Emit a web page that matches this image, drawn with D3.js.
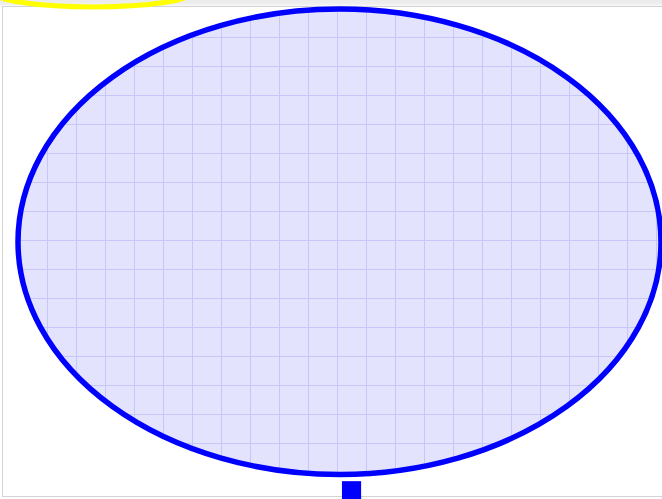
<!DOCTYPE html>
<html>
<head>
<meta charset="utf-8">
<script src="https://cdn.jsdelivr.net/npm/d3@7"></script>
<style>
html,body{margin:0;padding:0;background:#fff;overflow:hidden;}
svg{display:block;}
</style>
</head>
<body>
<script>
// Data (grid units)
const shapeNames = ["highlight", "region"];
const centerX = [2.59, 11.085];
const centerY = [-0.59, 8.025];
const radiusX = [3.45, 11.085];
const radiusY = [0.52, 8.025];
const gridXTicks = d3.range(0, 23);
const gridYTicks = d3.range(0, 17);
const barNames = ["stem"];
const barStart = [11.17];
const barWidth = [0.66];
const barTop = [16.28];
const barBottom = [16.95];

const W = 662, H = 499;
const svg = d3.select("body").append("svg").attr("width", W).attr("height", H);

const x = d3.scaleLinear().domain([0, 22.17]).range([18, 661]);
const y = d3.scaleLinear().domain([0, 16.05]).range([9, 474.5]);
const sx = v => x(v) - x(0);
const sy = v => y(v) - y(0);

// top strip gradient
const defs = svg.append("defs");
const g = defs.append("linearGradient").attr("id","strip").attr("x1",0).attr("x2",0).attr("y1",0).attr("y2",1);
g.append("stop").attr("offset","0%").attr("stop-color","#ebebeb");
g.append("stop").attr("offset","55%").attr("stop-color","#eeeeee");
g.append("stop").attr("offset","100%").attr("stop-color","#ffffff");
svg.append("rect").attr("x",0).attr("y",0).attr("width",W).attr("height",7).attr("fill","url(#strip)");

// frame
svg.append("rect").attr("x",2.5).attr("y",6.5).attr("width",W+10).attr("height",490)
  .attr("fill","none").attr("stroke","#d4d4d4").attr("stroke-width",1);

const blue = 1, yel = 0;
// clip for region
defs.append("clipPath").attr("id","clipE").append("ellipse")
  .attr("cx", x(centerX[blue])).attr("cy", y(centerY[blue]))
  .attr("rx", sx(radiusX[blue])).attr("ry", sy(radiusY[blue]));

// fill
svg.append("ellipse")
  .attr("cx", x(centerX[blue])).attr("cy", y(centerY[blue]))
  .attr("rx", sx(radiusX[blue])).attr("ry", sy(radiusY[blue]))
  .attr("fill", "#e3e3fd");

// grid
const grid = svg.append("g").attr("clip-path","url(#clipE)");
grid.selectAll("line.v").data(gridXTicks).join("line").attr("class","v")
  .attr("x1", d => Math.round(x(d)) + 0.5).attr("x2", d => Math.round(x(d)) + 0.5)
  .attr("y1", 0).attr("y2", H)
  .attr("stroke","#c6c6fb").attr("stroke-width",1);
grid.selectAll("line.h").data(gridYTicks).join("line").attr("class","h")
  .attr("y1", d => Math.round(y(d)) - 0.5).attr("y2", d => Math.round(y(d)) - 0.5)
  .attr("x1", 0).attr("x2", W)
  .attr("stroke","#c6c6fb").attr("stroke-width",1);

// outline
svg.append("ellipse")
  .attr("cx", x(centerX[blue])).attr("cy", y(centerY[blue]))
  .attr("rx", sx(radiusX[blue])).attr("ry", sy(radiusY[blue]))
  .attr("fill", "none").attr("stroke","#0000ff").attr("stroke-width",5.5);

// yellow highlight
svg.append("ellipse")
  .attr("cx", x(centerX[yel])).attr("cy", y(centerY[yel]))
  .attr("rx", sx(radiusX[yel])).attr("ry", sy(radiusY[yel]))
  .attr("fill", "none").attr("stroke","#ffff00").attr("stroke-width",5);

// bar
svg.selectAll("rect.bar").data(barNames).join("rect").attr("class","bar")
  .attr("x", (d,i) => x(barStart[i]))
  .attr("width", (d,i) => sx(barWidth[i]))
  .attr("y", (d,i) => y(barTop[i]))
  .attr("height", (d,i) => y(barBottom[i]) - y(barTop[i]) + 10)
  .attr("fill","#0000ff");
</script>
</body>
</html>
